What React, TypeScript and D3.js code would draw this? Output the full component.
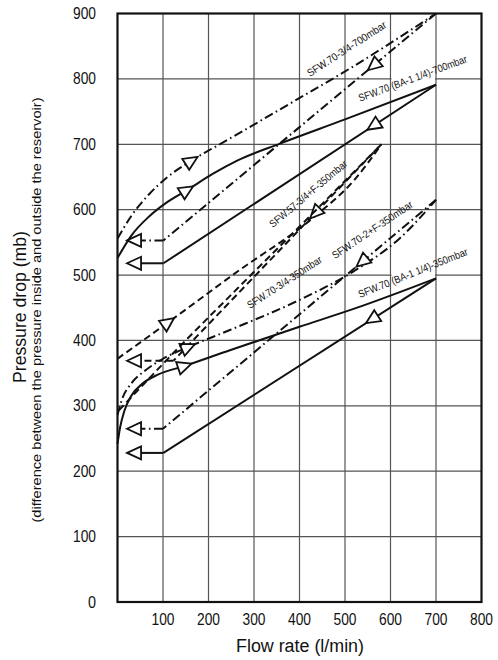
import React from 'react';
import * as d3 from 'd3';

type Pt = [number, number];

const xTicks = [100, 200, 300, 400, 500, 600, 700, 800];
const yTicks = [0, 100, 200, 300, 400, 500, 600, 700, 800, 900];

// SFW.70-3/4-700mbar
const a700Up: Pt[] = [[0, 556], [30, 590], [70, 624], [110, 650], [163, 675], [250, 710], [386, 765], [511, 816], [700, 900]];
const a700Down: Pt[] = [[700, 900], [101, 553]];
// SFW.70 (BA-1 1/4)-700mbar
const b700Up: Pt[] = [[0, 526], [30, 560], [70, 590], [110, 612], [153, 630], [210, 655], [263, 675], [357, 701], [500, 738], [700, 791]];
const b700Down: Pt[] = [[700, 791], [101, 518]];
// SFW.57-3/4+F-350mbar
const c350Up: Pt[] = [[0, 372], [112, 428], [263, 505], [434, 590], [520, 645], [580, 700]];
const c350Down: Pt[] = [[580, 700], [123, 369]];
// SFW.70-3/4-350mbar
const d350Up: Pt[] = [[0, 286], [10, 310], [30, 334], [61, 354], [100, 372], [156, 390], [247, 416], [400, 462], [522, 507], [620, 556], [700, 615]];
const d350Down: Pt[] = [[700, 615], [100, 265]];
// SFW.70-2+F-350mbar
const e350Up: Pt[] = [[3, 293], [60, 335], [140, 393], [263, 479], [420, 588], [580, 700]];
// SFW.70 (BA-1 1/4)-350mbar
const f350Up: Pt[] = [[0, 242], [6, 268], [15, 292], [30, 315], [55, 334], [90, 348], [148, 361], [247, 385], [400, 421], [522, 449], [700, 495]];
const f350Down: Pt[] = [[700, 495], [101, 228]];

const labels = ['SFW.70-3/4-700mbar', 'SFW.70 (BA-1 1/4)-700mbar', 'SFW.57-3/4+F-350mbar', 'SFW.70-3/4-350mbar', 'SFW.70-2+F-350mbar', 'SFW.70 (BA-1 1/4)-350mbar'];

const DASHDOT = '9,3.5,1.6,3.5';
const DASHED = '7,4';

const x = d3.scaleLinear().domain([0, 800]).range([117.5, 481.5]);
const y = d3.scaleLinear().domain([0, 900]).range([602, 13.5]);

const series = [
  { up: a700Up, down: a700Down, dash: DASHDOT, upArrow: 163, downArrow: 562, label: labels[0], lx: 423, ly: 803, ang: 33, len: 92 },
  { up: b700Up, down: b700Down, dash: '', upArrow: 153, downArrow: 562, label: labels[1], lx: 533, ly: 765, ang: 20.3, len: 115 },
  { up: c350Up, down: c350Down, dash: DASHED, upArrow: 112, downArrow: 434, label: labels[2], lx: 342, ly: 572, ang: 40, len: 98 },
  { up: d350Up, down: d350Down, dash: DASHDOT, upArrow: 156, downArrow: 537, label: labels[3], lx: 291, ly: 448, ang: 33, len: 87 },
  { up: e350Up, down: null, dash: DASHED, upArrow: null, downArrow: null, label: labels[4], lx: 478, ly: 524, ang: 34, len: 95 },
  { up: f350Up, down: f350Down, dash: '', upArrow: 148, downArrow: 559, label: labels[5], lx: 533, ly: 465, ang: 21.8, len: 117 },
];

// grid cells blanked behind the label text in the original drawing
const gridGaps = [
  { x0: 600, x1: 700, y0: 778, y1: 812 },
  { x0: 600, x1: 700, y0: 492, y1: 568 },
];

const upLine = d3.line<Pt>().x(d => x(d[0])).y(d => y(d[1])).curve(d3.curveMonotoneX);
const downLine = d3.line<Pt>().x(d => x(d[0])).y(d => y(d[1]));

function interp(pts: Pt[], xv: number): number {
  const s = [...pts].sort((a, b) => a[0] - b[0]);
  for (let i = 0; i < s.length - 1; i++) {
    if (xv >= s[i][0] && xv <= s[i + 1][0]) {
      const t = (xv - s[i][0]) / (s[i + 1][0] - s[i][0]);
      return s[i][1] + t * (s[i + 1][1] - s[i][1]);
    }
  }
  return s[s.length - 1][1];
}

const ARROW_L = 14;
const ARROW_H = 6.5;
const INK = '#111';

function MidArrow({ pts, xv, back }: { pts: Pt[]; xv: number; back: boolean }) {
  const px = x(xv), py = y(interp(pts, xv));
  const dx = x(xv + 4) - x(xv - 4);
  const dy = y(interp(pts, xv + 4)) - y(interp(pts, xv - 4));
  let a = (Math.atan2(dy, dx) * 180) / Math.PI;
  if (back) a += 180;
  return (
    <polygon
      transform={`translate(${px},${py}) rotate(${a})`}
      points={`${ARROW_L / 2},0 ${-ARROW_L / 2},${-ARROW_H} ${-ARROW_L / 2},${ARROW_H}`}
      fill="#fff" stroke={INK} strokeWidth={1.8}
    />
  );
}

function EndArrow({ corner, dash }: { corner: Pt; dash: string }) {
  const tip = x(21);
  const py = y(corner[1]);
  return (
    <g>
      <line x1={x(corner[0])} y1={py} x2={tip + ARROW_L} y2={py} stroke={INK} strokeWidth={2} strokeDasharray={dash || undefined} />
      <polygon points={`${tip},${py} ${tip + ARROW_L},${py - ARROW_H} ${tip + ARROW_L},${py + ARROW_H}`} fill="#fff" stroke={INK} strokeWidth={1.8} />
    </g>
  );
}

const FONT = "'Liberation Sans Narrow', 'Arial Narrow', 'Liberation Sans', Arial, sans-serif";

export default function App() {
  const [x0, x1] = x.range();
  const [y0, y1] = y.range();
  return (
    <svg width={498} height={660} style={{ position: 'absolute', left: 0, top: 0, background: '#fff' }} fontFamily={FONT}>
      <rect width={498} height={660} fill="#fff" />
      {/* grid */}
      {xTicks.filter(t => t < 800).map(t => (
        <line key={'gx' + t} x1={x(t)} x2={x(t)} y1={y1} y2={y0} stroke="#555" strokeWidth={1.2} />
      ))}
      {yTicks.filter(t => t > 0 && t < 900).map(t => (
        <line key={'gy' + t} x1={x0} x2={x1} y1={y(t)} y2={y(t)} stroke="#555" strokeWidth={1.2} />
      ))}
      {gridGaps.map((g, i) => (
        <rect key={'gap' + i} x={x(g.x0) + 1} y={y(g.y1)} width={x(g.x1) - x(g.x0) - 2} height={y(g.y0) - y(g.y1)} fill="#fff" />
      ))}

      {/* curves */}
      {series.map((s, i) => (
        <g key={'s' + i}>
          <path d={upLine(s.up) || ''} fill="none" stroke={INK} strokeWidth={2} strokeDasharray={s.dash || undefined} />
          {s.down && (
            <path d={downLine(s.down) || ''} fill="none" stroke={INK} strokeWidth={2} strokeDasharray={s.dash || undefined} />
          )}
          {s.down && <EndArrow corner={s.down[s.down.length - 1]} dash={s.dash} />}
          {s.upArrow != null && <MidArrow pts={s.up} xv={s.upArrow} back={false} />}
          {s.down && s.downArrow != null && <MidArrow pts={s.down} xv={s.downArrow} back={true} />}
          <text
            transform={`translate(${x(s.lx)},${y(s.ly)}) rotate(${-s.ang})`}
            fontSize={10.5} fill={INK} textLength={s.len} lengthAdjust="spacingAndGlyphs"
          >{s.label}</text>
        </g>
      ))}

      {/* frame */}
      <rect x={x0} y={y1} width={x1 - x0} height={y0 - y1} fill="none" stroke={INK} strokeWidth={2.2} />

      {/* ticks */}
      {xTicks.map(t => (
        <text key={'tx' + t} x={x(t)} y={625} textAnchor="middle" fontSize={16} fill={INK} textLength={23} lengthAdjust="spacingAndGlyphs">{t}</text>
      ))}
      {yTicks.map(t => (
        <text key={'ty' + t} x={96} y={y(t) + 5.5} textAnchor="end" fontSize={16} fill={INK}
          textLength={t === 0 ? 8 : 23} lengthAdjust="spacingAndGlyphs">{t}</text>
      ))}

      <text x={300} y={652} textAnchor="middle" fontSize={18} fill={INK} textLength={128} lengthAdjust="spacingAndGlyphs">Flow rate (l/min)</text>
      <text transform="translate(26,307) rotate(-90)" textAnchor="middle" fontSize={18} fill={INK} textLength={152} lengthAdjust="spacingAndGlyphs">Pressure drop (mb)</text>
      <text transform="translate(41,310) rotate(-90)" textAnchor="middle" fontSize={13} fill={INK} textLength={425} lengthAdjust="spacingAndGlyphs">(difference between the pressure inside and outside the reservoir)</text>
    </svg>
  );
}
